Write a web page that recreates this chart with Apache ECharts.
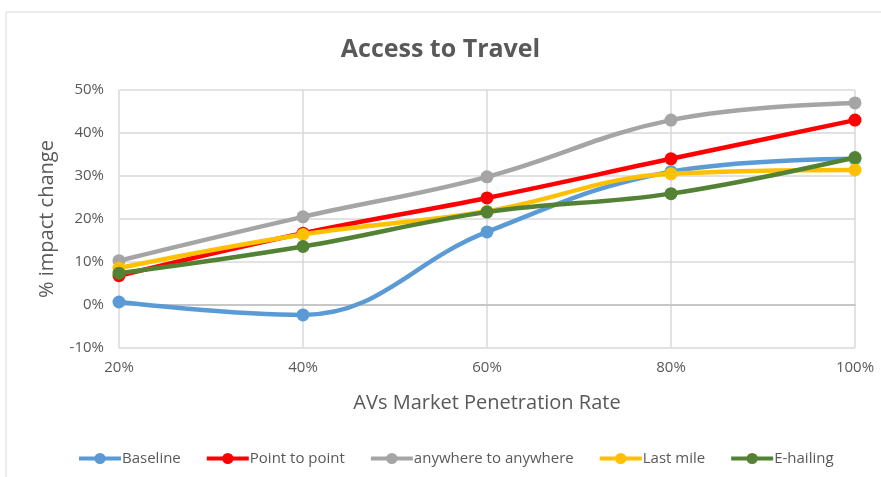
<!DOCTYPE html>
<html><head><meta charset="utf-8">
<script src="https://cdn.jsdelivr.net/npm/echarts@6/dist/echarts.min.js"></script>
<style>html,body{margin:0;padding:0;background:#fff}#c{width:881px;height:477px}</style>
</head><body><div id="c"></div>
<script>
const categories = ['20%','40%','60%','80%','100%'];
const baseline = [0.7, -2.3, 17, 31, 34];
const pointToPoint = [6.8, 16.7, 24.9, 34, 43];
const anywhere = [10.3, 20.5, 29.8, 43, 47];
const lastMile = [8.6, 16.4, 21.8, 30.5, 31.4];
const eHailing = [7.4, 13.6, 21.6, 25.9, 34.3];
const seriesNames = ['Baseline','Point to point','anywhere to anywhere','Last mile','E-hailing'];
const colors = ['#5b9bd5','#ff0000','#a5a5a5','#ffc000','#548235'];

const font = '"Open Sans", sans-serif';
const dataSets = [baseline, pointToPoint, anywhere, lastMile, eHailing];
const chart = echarts.init(document.getElementById('c'));
chart.setOption({
  animation: false,
  color: colors,
  textStyle: {fontFamily: font},
  title: {text: 'Access to Travel', left: 'center', top: 32,
    textStyle: {fontSize: 25, fontWeight: 'bold', color: '#595959', fontFamily: font}},
  graphic: [{type: 'rect', shape: {x: 6, y: 12, width: 890, height: 480},
    style: {fill: 'none', stroke: '#d9d9d9', lineWidth: 1}, silent: true}],
  legend: {top: 446, left: 72, itemGap: 24, itemWidth: 42, itemHeight: 14,
    data: seriesNames,
    lineStyle: {width: 4},
    textStyle: {fontSize: 15, color: '#595959', padding: [0,0,0,-4], fontFamily: font}},
  grid: {left: 119, right: 26, top: 90, bottom: 129, containLabel: false},
  xAxis: {type: 'category', data: categories, boundaryGap: false,
    name: 'AVs Market Penetration Rate', nameLocation: 'middle', nameGap: 45,
    nameTextStyle: {fontSize: 20, color: '#595959', fontFamily: font},
    axisLine: {onZero: true, lineStyle: {color: '#bfbfbf', width: 1.5}},
    axisTick: {show: false},
    axisLabel: {fontSize: 15, color: '#595959', margin: 12, fontFamily: font},
    splitLine: {show: true, lineStyle: {color: '#d9d9d9', width: 1.5}}},
  yAxis: {type: 'value', min: -10, max: 50, interval: 10,
    name: '% impact change', nameLocation: 'middle', nameGap: 62,
    nameTextStyle: {fontSize: 20, color: '#595959', fontFamily: font},
    axisLine: {show: false}, axisTick: {show: false},
    axisLabel: {fontSize: 15, color: '#595959', margin: 15, fontFamily: font, formatter: v => v + '%'},
    splitLine: {lineStyle: {color: '#d9d9d9', width: 1.5}}},
  series: seriesNames.map((n, i) => ({
    name: n, type: 'line', data: dataSets[i], smooth: 0.4,
    symbol: 'circle', symbolSize: 13, lineStyle: {width: 4.5},
    itemStyle: {color: colors[i]}, z: 2 + i
  }))
});
</script></body></html>
